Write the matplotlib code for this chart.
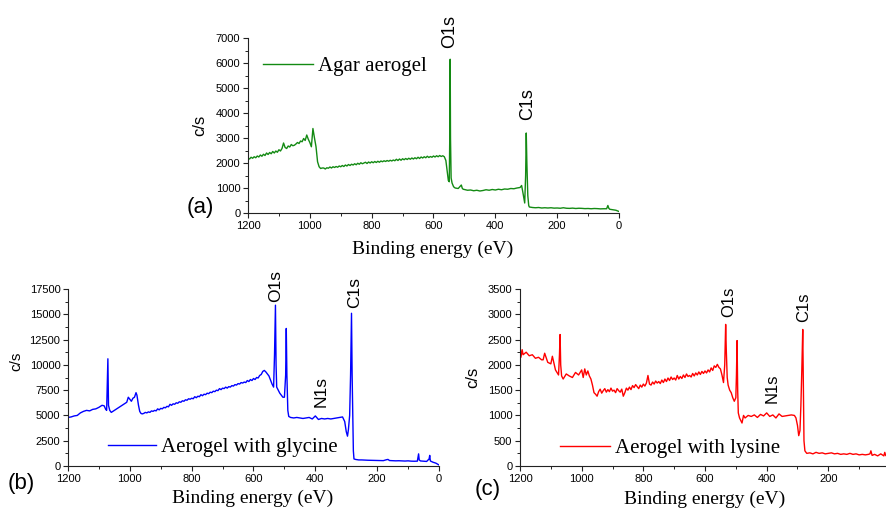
import matplotlib
matplotlib.use("Agg")
import matplotlib.pyplot as plt
from matplotlib.ticker import MultipleLocator, FuncFormatter

# ---- survey spectra ----
# (a) agar aerogel
energy_a = [1200, 1195, 1190, 1185, 1180, 1175, 1170, 1165, 1160, 1155,
            1150, 1145, 1140, 1135, 1130, 1125, 1120, 1115, 1110, 1105,
            1100, 1095, 1090, 1085, 1080, 1075, 1070, 1065, 1060, 1055,
            1050, 1045, 1040, 1035, 1030, 1025, 1020, 1015, 1010, 1005,
            1000, 995, 990, 985, 980, 975, 970, 965, 960, 955,
            950, 945, 940, 935, 930, 925, 920, 915, 910, 905,
            900, 895, 890, 885, 880, 875, 870, 865, 860, 855,
            850, 845, 840, 835, 830, 825, 820, 815, 810, 805,
            800, 795, 790, 785, 780, 775, 770, 765, 760, 755,
            750, 745, 740, 735, 730, 725, 720, 715, 710, 705,
            700, 695, 690, 685, 680, 675, 670, 665, 660, 655,
            650, 645, 640, 635, 630, 625, 620, 615, 610, 605,
            600, 595, 590, 585, 580, 575, 570, 565, 560, 556,
            552, 549, 547, 546, 545, 543, 540, 535, 530, 520,
            510, 507, 504, 500, 490, 480, 470, 460, 450, 440,
            430, 420, 410, 400, 390, 380, 370, 360, 350, 340,
            330, 320, 315, 312, 308, 305, 302, 300, 298, 295,
            292, 290, 285, 280, 270, 260, 250, 240, 230, 220,
            210, 200, 190, 180, 170, 160, 150, 140, 130, 120,
            110, 100, 90, 80, 70, 60, 50, 40, 36, 33,
            30, 20, 10, 0]
counts_a = [2200, 2160, 2230, 2190, 2250, 2210, 2280, 2240, 2320, 2270,
            2350, 2300, 2400, 2340, 2420, 2370, 2460, 2400, 2480, 2430,
            2530, 2480, 2580, 2800, 2620, 2580, 2680, 2640, 2740, 2690,
            2710, 2760, 2820, 2780, 2880, 2850, 2980, 2900, 3120, 2950,
            2820, 2650, 3380, 3000, 2650, 2050, 1850, 1780, 1800, 1800,
            1760, 1810, 1790, 1840, 1800, 1850, 1820, 1860, 1830, 1880,
            1850, 1900, 1860, 1920, 1880, 1940, 1900, 1950, 1920, 1970,
            1930, 1990, 1950, 2010, 1970, 2000, 2030, 1980, 2040, 2000,
            2050, 2010, 2060, 2020, 2070, 2030, 2080, 2050, 2090, 2060,
            2100, 2070, 2110, 2080, 2120, 2090, 2150, 2100, 2160, 2110,
            2170, 2130, 2180, 2140, 2190, 2150, 2200, 2160, 2210, 2170,
            2230, 2180, 2240, 2200, 2250, 2210, 2270, 2220, 2260, 2230,
            2280, 2240, 2290, 2250, 2300, 2260, 2290, 2250, 2100, 1700,
            1300, 1250, 3500, 6150, 3000, 1400, 1200, 1050, 1000, 980,
            1120, 990, 950, 940, 910, 920, 890, 910, 880, 900,
            930, 910, 940, 920, 950, 930, 960, 950, 980, 970,
            1000, 1020, 1100, 900, 600, 400, 1500, 3200, 2000, 700,
            300, 240, 230, 220, 210, 220, 200, 210, 200, 210,
            195, 200, 190, 210, 190, 185, 195, 180, 190, 185,
            175, 180, 170, 180, 175, 165, 170, 170, 300, 190,
            150, 130, 110, 60]

# (b) aerogel with glycine
energy_b = [1200, 1190, 1180, 1170, 1160, 1150, 1140, 1130, 1120, 1110,
            1100, 1090, 1083, 1078, 1075, 1073, 1071, 1069, 1065, 1060,
            1050, 1040, 1030, 1020, 1010, 1005, 1000, 995, 990, 985,
            980, 977, 972, 968, 964, 960, 955, 950, 945, 940,
            935, 930, 925, 920, 915, 910, 905, 900, 895, 890,
            885, 880, 875, 870, 865, 860, 855, 850, 845, 840,
            835, 830, 825, 820, 815, 810, 805, 800, 795, 790,
            785, 780, 775, 770, 765, 760, 755, 750, 745, 740,
            735, 730, 725, 720, 715, 710, 705, 700, 695, 690,
            685, 680, 675, 670, 665, 660, 655, 650, 645, 640,
            635, 630, 625, 620, 615, 610, 605, 600, 595, 590,
            585, 580, 575, 570, 565, 560, 555, 550, 545, 540,
            535, 532, 529, 527, 525, 520, 515, 510, 505, 500,
            496, 494, 492, 489, 486, 480, 470, 460, 450, 440,
            430, 420, 410, 400, 390, 380, 370, 360, 350, 340,
            330, 320, 312, 305, 300, 296, 293, 289, 286, 283,
            281, 279, 277, 275, 270, 260, 250, 240, 230, 220,
            210, 200, 190, 180, 170, 165, 160, 150, 140, 130,
            120, 110, 100, 90, 80, 70, 66, 64, 60, 50,
            40, 32, 30, 28, 20, 10, 0]
counts_b = [4800, 4850, 4950, 5000, 5250, 5400, 5500, 5450, 5600, 5650,
            5800, 6000, 5950, 5600, 5500, 8000, 10600, 6000, 5500, 5300,
            5500, 5700, 5900, 6100, 6300, 6800, 6600, 6400, 6700, 6800,
            7250, 7000, 6000, 5400, 5200, 5150, 5200, 5300, 5250, 5350,
            5300, 5450, 5400, 5500, 5450, 5650, 5550, 5700, 5650, 5800,
            5750, 5900, 5850, 6100, 6000, 6150, 6100, 6250, 6200, 6350,
            6300, 6450, 6400, 6550, 6500, 6650, 6600, 6700, 6650, 6850,
            6750, 6900, 6850, 7050, 6950, 7100, 7050, 7200, 7150, 7300,
            7250, 7400, 7350, 7500, 7450, 7650, 7550, 7700, 7650, 7800,
            7700, 7850, 7800, 7950, 7900, 8050, 8000, 8150, 8100, 8250,
            8200, 8300, 8250, 8450, 8350, 8550, 8450, 8650, 8550, 8750,
            8700, 8950, 9050, 9350, 9450, 9300, 9100, 8900, 8500, 8100,
            7800, 11000, 15900, 10000, 7800, 7500, 7200, 7000, 6800, 6800,
            9000, 13600, 9000, 5500, 4900, 4800, 4750, 4800, 4750, 4700,
            4750, 4800, 4650, 4950, 4600, 4700, 4650, 4700, 4650, 4700,
            4750, 4800, 4850, 4400, 3400, 2950, 3600, 5000, 9000, 15100,
            9000, 5000, 1500, 700, 650, 600, 600, 580, 570, 560,
            560, 550, 540, 530, 620, 650, 540, 520, 510, 520,
            500, 490, 510, 480, 470, 480, 1200, 600, 500, 480,
            450, 700, 1050, 500, 380, 280, 100]

# (c) aerogel with lysine
energy_c = [1200, 1197, 1193, 1190, 1180, 1170, 1160, 1150, 1140, 1130,
            1125, 1120, 1110, 1100, 1095, 1090, 1085, 1080, 1075, 1072,
            1070, 1068, 1065, 1060, 1050, 1040, 1030, 1020, 1010, 1000,
            995, 990, 985, 980, 975, 970, 965, 960, 955, 950,
            945, 940, 935, 930, 925, 920, 915, 910, 905, 900,
            895, 890, 885, 880, 875, 870, 865, 860, 855, 850,
            845, 840, 835, 830, 825, 820, 815, 810, 805, 800,
            795, 790, 785, 780, 775, 770, 765, 760, 755, 750,
            745, 740, 735, 730, 725, 720, 715, 710, 705, 700,
            695, 690, 685, 680, 675, 670, 665, 660, 655, 650,
            645, 640, 635, 630, 625, 620, 615, 610, 605, 600,
            595, 590, 585, 580, 575, 570, 565, 560, 555, 550,
            545, 540, 536, 533, 531, 528, 525, 520, 515, 510,
            505, 500, 498, 496, 494, 492, 488, 484, 480, 475,
            470, 460, 450, 440, 430, 420, 410, 400, 390, 380,
            370, 360, 350, 340, 330, 320, 310, 305, 300, 296,
            292, 289, 286, 283, 281, 279, 276, 270, 260, 250,
            240, 230, 220, 210, 200, 190, 180, 170, 160, 150,
            140, 130, 120, 110, 100, 90, 80, 70, 65, 62,
            58, 50, 40, 30, 20, 17, 14, 10, 5, 0]
counts_c = [2380, 2150, 2300, 2200, 2250, 2180, 2200, 2130, 2150, 2100,
            2100, 2230, 2050, 2020, 2170, 2030, 1900, 1850, 1800, 2200,
            2600, 2000, 1780, 1720, 1820, 1780, 1750, 1850, 1800, 1900,
            1750, 1920, 1800, 1880, 1780, 1720, 1600, 1450, 1420, 1380,
            1470, 1520, 1440, 1490, 1530, 1460, 1510, 1470, 1540, 1480,
            1500, 1450, 1530, 1490, 1460, 1520, 1380, 1450, 1540, 1500,
            1560, 1510, 1590, 1550, 1610, 1570, 1530, 1600, 1560, 1620,
            1580, 1640, 1790, 1620, 1600, 1660, 1620, 1680, 1640, 1670,
            1630, 1700, 1650, 1720, 1670, 1740, 1690, 1760, 1710, 1740,
            1700, 1790, 1720, 1770, 1730, 1800, 1750, 1820, 1770, 1790,
            1760, 1830, 1780, 1840, 1800, 1860, 1810, 1870, 1830, 1880,
            1840, 1900, 1860, 1940, 1890, 1980, 1950, 2010, 1950, 1920,
            1800, 1650, 2000, 2800, 2300, 1750, 1600, 1500, 1450, 1350,
            1280, 1350, 1800, 2480, 1500, 1050, 950, 900, 850, 1000,
            950, 1000, 980, 1010, 960, 1020, 990, 1050, 980, 1010,
            950, 1030, 980, 990, 1000, 1010, 1000, 950, 800, 600,
            700, 1200, 1900, 2700, 1500, 500, 300, 250, 260, 240,
            270, 250, 260, 240, 250, 260, 240, 250, 230, 240,
            230, 250, 230, 240, 220, 230, 220, 230, 240, 300,
            210, 230, 200, 240, 200, 270, 210, 190, 200, 180]

W, H = 886, 512
fig = plt.figure(figsize=(W / 100, H / 100), dpi=100)

SANS = "Liberation Sans"
SERIF = "Liberation Serif"


def fx(px):
    return px / W


def fy(py):
    return 1 - py / H


def setup(ax, ymax, ymajor):
    ax.set_xlim(1200, 0)
    ax.set_ylim(0, ymax)
    ax.xaxis.set_major_locator(MultipleLocator(200))
    ax.xaxis.set_minor_locator(MultipleLocator(100))
    ax.yaxis.set_major_locator(MultipleLocator(ymajor))
    ax.yaxis.set_minor_locator(MultipleLocator(ymajor / 2))
    for s in ["top", "right"]:
        ax.spines[s].set_visible(False)
    for s in ["left", "bottom"]:
        ax.spines[s].set_linewidth(0.8)
        ax.spines[s].set_color("#222222")
    ax.tick_params(which="major", direction="out", length=3.5, width=0.8,
                   pad=2, labelsize=8, color="#222222")
    ax.tick_params(which="minor", direction="out", length=2, width=0.7,
                   color="#222222")
    for lab in ax.get_xticklabels() + ax.get_yticklabels():
        lab.set_fontfamily(SANS)
    ax.patch.set_alpha(0)


def add_legend(ax, px, py, hlen):
    ax.legend(loc="center left", bbox_to_anchor=(fx(px), fy(py)),
              bbox_transform=fig.transFigure, frameon=False, borderpad=0,
              borderaxespad=0, handlelength=hlen, handletextpad=0.25,
              prop={"family": SERIF, "size": 15})


def peak(ax, x, y, text, size):
    ax.text(x, y, text, rotation=90, ha="center", va="center",
            family=SANS, fontsize=size, clip_on=False)


# panel (a)
ax_a = fig.add_axes([fx(248), fy(213), fx(371), 175 / H])
ax_a.plot(energy_a, counts_a, color="#138a13", lw=1.0, label="Agar aerogel")
setup(ax_a, 7000, 1000)
add_legend(ax_a, 263, 66, 2.4)
peak(ax_a, 547, 7260, "O1s", 13)
peak(ax_a, 296, 4360, "C1s", 13)

# panel (b)
ax_b = fig.add_axes([fx(68), fy(466), fx(371), 177 / H])
ax_b.plot(energy_b, counts_b, color="#0000ff", lw=1.0,
          label="Aerogel with glycine")
setup(ax_b, 17500, 2500)
add_legend(ax_b, 108, 447, 2.3)
peak(ax_b, 527, 17800, "O1s", 12.5)
peak(ax_b, 272, 17200, "C1s", 12.5)
peak(ax_b, 382, 7320, "N1s", 12.5)

# panel (c) - its right end runs off the figure edge
ax_c = fig.add_axes([fx(520), fy(466), fx(370), 177 / H])
ax_c.plot(energy_c, counts_c, color="#ff0000", lw=1.0,
          label="Aerogel with lysine")
setup(ax_c, 3500, 500)
ax_c.xaxis.set_major_formatter(
    FuncFormatter(lambda v, p: "" if v == 0 else f"{v:.0f}"))
add_legend(ax_c, 560, 448, 2.4)
peak(ax_c, 524, 3243, "O1s", 12)
peak(ax_c, 280, 3144, "C1s", 12)
peak(ax_c, 381, 1542, "N1s", 12)

# axis titles and panel letters
for x, y in [(433, 254), (253, 503), (705, 504)]:
    fig.text(fx(x), fy(y), "Binding energy (eV)", ha="center", va="baseline",
             family=SERIF, fontsize=14)
for x, y, size in [(200, 125, 12), (16, 361, 11), (473, 377, 12)]:
    fig.text(fx(x), fy(y), "c/s", rotation=90, ha="center", va="center",
             family=SANS, fontsize=size)
for x, y, t in [(187, 208, "(a)"), (8, 483, "(b)"), (475, 489, "(c)")]:
    fig.text(fx(x), fy(y), t, ha="left", va="center", family=SANS,
             fontsize=16)

fig.savefig("out.png", dpi=100)
